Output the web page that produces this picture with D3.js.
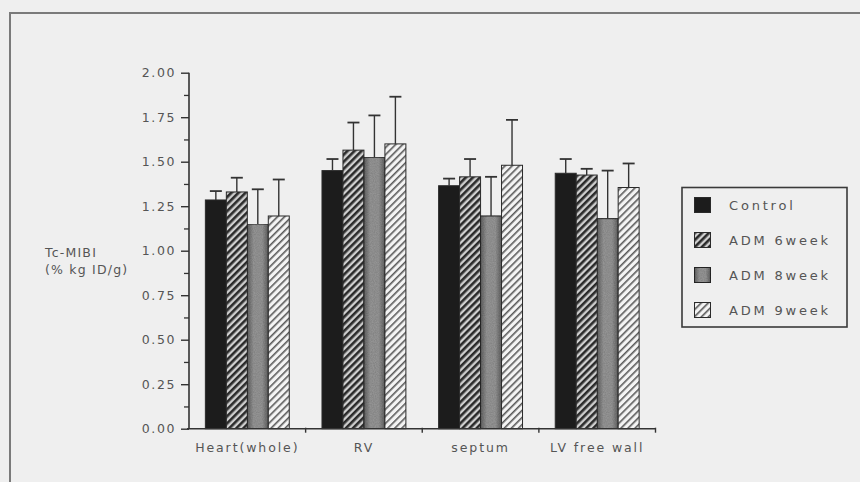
<!DOCTYPE html>
<html>
<head>
<meta charset="utf-8">
<script src="https://cdn.jsdelivr.net/npm/d3@7"></script>
<style>
  html, body { margin: 0; padding: 0; background: #efefef; }
  svg { display: block; }
  text { font-family: "DejaVu Sans", sans-serif; fill: #555; }
</style>
</head>
<body>
<svg id="chart" width="860" height="482"></svg>
<script>
// Tissue regions along the x axis
const categories = ["Heart(whole)", "RV", "septum", "LV free wall"];
// Groups shown in each region
const series = ["Control", "ADM 6week", "ADM 8week", "ADM 9week"];
// Mean Tc-MIBI uptake per group, one array per region
const heartWhole = [1.285, 1.33, 1.15, 1.195];
const rv         = [1.45, 1.565, 1.525, 1.60];
const septum     = [1.365, 1.415, 1.195, 1.48];
const lvFreeWall = [1.435, 1.425, 1.18, 1.355];
// Upper error bar (mean + SD) per group, one array per region
const heartWholeErr = [1.335, 1.41, 1.345, 1.40];
const rvErr         = [1.515, 1.72, 1.76, 1.865];
const septumErr     = [1.405, 1.515, 1.415, 1.735];
const lvFreeWallErr = [1.515, 1.46, 1.45, 1.49];
// Y axis tick labels
const yTicks = [0, 0.25, 0.5, 0.75, 1.0, 1.25, 1.5, 1.75, 2.0];

const means = [heartWhole, rv, septum, lvFreeWall];
const errs = [heartWholeErr, rvErr, septumErr, lvFreeWallErr];

const rows = categories.map((c, i) => ({
  category: c,
  bars: series.map((s, j) => ({ series: s, value: means[i][j], err: errs[i][j] }))
}));

const svg = d3.select("#chart");
const defs = svg.append("defs");

// Dark diagonal hatch
const p6 = defs.append("pattern").attr("id", "hatchDark")
  .attr("patternUnits", "userSpaceOnUse").attr("width", 5).attr("height", 5)
  .attr("patternTransform", "rotate(45)");
p6.append("rect").attr("width", 5).attr("height", 5).attr("fill", "#cfcfcf");
p6.append("rect").attr("width", 2.6).attr("height", 5).attr("fill", "#2a2a2a");

// Light diagonal hatch
const p9 = defs.append("pattern").attr("id", "hatchLight")
  .attr("patternUnits", "userSpaceOnUse").attr("width", 5).attr("height", 5)
  .attr("patternTransform", "rotate(45)");
p9.append("rect").attr("width", 5).attr("height", 5).attr("fill", "#f4f4f4");
p9.append("rect").attr("width", 1.6).attr("height", 5).attr("fill", "#5a5a5a");

// Grainy mid-grey fill, darker at the edges
const g8 = defs.append("linearGradient").attr("id", "shadeMid")
  .attr("x1", "0%").attr("x2", "100%").attr("y1", "0%").attr("y2", "0%");
g8.append("stop").attr("offset", "0%").attr("stop-color", "#646464");
g8.append("stop").attr("offset", "30%").attr("stop-color", "#9a9a9a");
g8.append("stop").attr("offset", "70%").attr("stop-color", "#9a9a9a");
g8.append("stop").attr("offset", "100%").attr("stop-color", "#646464");

const grain = defs.append("filter").attr("id", "grain")
  .attr("x", "0").attr("y", "0").attr("width", "1").attr("height", "1");
grain.append("feTurbulence").attr("type", "fractalNoise")
  .attr("baseFrequency", 0.9).attr("numOctaves", 2).attr("seed", 3).attr("result", "noise");
grain.append("feColorMatrix").attr("in", "noise").attr("type", "matrix")
  .attr("values", "0 0 0 0 0  0 0 0 0 0  0 0 0 0 0  0 0 0 0.35 0").attr("result", "dots");
grain.append("feComposite").attr("in", "dots").attr("in2", "SourceGraphic")
  .attr("operator", "in").attr("result", "dotsIn");
grain.append("feMerge").selectAll("feMergeNode")
  .data(["SourceGraphic", "dotsIn"]).join("feMergeNode").attr("in", d => d);

const fills = {
  "Control": "#1c1c1c",
  "ADM 6week": "url(#hatchDark)",
  "ADM 8week": "url(#shadeMid)",
  "ADM 9week": "url(#hatchLight)"
};

// Page frame
svg.append("path")
  .attr("d", "M10,482 L10,13 L862,13")
  .attr("fill", "none").attr("stroke", "#7a7a7a").attr("stroke-width", 2);

// Scales
const x0 = d3.scaleBand().domain(categories).range([189, 655.5])
  .paddingInner(0).paddingOuter(0);
const x1 = d3.scaleBand().domain(series).range([0, x0.bandwidth()])
  .paddingInner(0).paddingOuter(0.78);
const y = d3.scaleLinear().domain([0, 2]).range([428.7, 72.7]);

// Bars
const groups = svg.append("g").selectAll("g").data(rows).join("g")
  .attr("transform", d => `translate(${x0(d.category)},0)`);

groups.selectAll("rect.bar").data(d => d.bars).join("rect")
  .attr("class", "bar")
  .attr("x", d => x1(d.series))
  .attr("y", d => y(d.value))
  .attr("width", x1.bandwidth())
  .attr("height", d => y(0) - y(d.value))
  .attr("fill", d => fills[d.series])
  .attr("filter", d => d.series === "ADM 8week" ? "url(#grain)" : null)
  .attr("stroke", "#2a2a2a").attr("stroke-width", 1);

// Error bars (upper only)
const capHalf = 6;
const eb = groups.selectAll("g.err").data(d => d.bars).join("g").attr("class", "err");
eb.append("line")
  .attr("x1", d => x1(d.series) + x1.bandwidth() / 2)
  .attr("x2", d => x1(d.series) + x1.bandwidth() / 2)
  .attr("y1", d => y(d.value)).attr("y2", d => y(d.err))
  .attr("stroke", "#333").attr("stroke-width", 1.4);
eb.append("line")
  .attr("x1", d => x1(d.series) + x1.bandwidth() / 2 - capHalf)
  .attr("x2", d => x1(d.series) + x1.bandwidth() / 2 + capHalf)
  .attr("y1", d => y(d.err)).attr("y2", d => y(d.err))
  .attr("stroke", "#333").attr("stroke-width", 1.8);

// Y axis with minor ticks
const minor = yTicks.slice(0, -1).map(v => v + 0.125);
svg.append("g").attr("transform", "translate(189,0)")
  .call(d3.axisLeft(y).tickValues(minor).tickSize(5).tickFormat(""))
  .call(g => g.select(".domain").remove())
  .call(g => g.selectAll("line").attr("stroke", "#333").attr("stroke-width", 1.3));

const yAxis = svg.append("g").attr("transform", "translate(189,0)")
  .call(d3.axisLeft(y).tickValues(yTicks).tickSize(8).tickPadding(5).tickFormat(d3.format(".2f")));
yAxis.select(".domain").attr("stroke", "#333").attr("stroke-width", 1.6)
  .attr("d", `M0,${y(2)}V${y(0)}`);
yAxis.selectAll(".tick line").attr("stroke", "#333").attr("stroke-width", 1.4).attr("x2", -8);
yAxis.selectAll(".tick text")
  .attr("font-size", 12.5).attr("letter-spacing", "1.6px")
  .style("font-family", "'DejaVu Sans', sans-serif").attr("fill", "#666");

// X axis
const xAxis = svg.append("g").attr("transform", `translate(0,${y(0)})`)
  .call(d3.axisBottom(x0).tickSize(0).tickPadding(14));
xAxis.select(".domain").attr("stroke", "#333").attr("stroke-width", 1.6)
  .attr("d", `M187,0H656`);
xAxis.selectAll(".tick text")
  .attr("font-size", 12.5).attr("letter-spacing", "1.9px")
  .style("font-family", "'DejaVu Sans', sans-serif").attr("fill", "#5a5a5a");
// Group boundary ticks
const bounds = categories.slice(1).map(c => x0(c)).concat([x0.range()[1]]);
xAxis.selectAll("line.bound").data(bounds).join("line").attr("class", "bound")
  .attr("x1", d => d).attr("x2", d => d).attr("y1", -1).attr("y2", 4)
  .attr("stroke", "#333").attr("stroke-width", 1.4);

// Y axis title
const yTitle = svg.append("text").attr("x", 45).attr("y", 257)
  .attr("font-size", 12.5).attr("letter-spacing", "1.2px").attr("fill", "#5a5a5a");
yTitle.append("tspan").attr("x", 45).text("Tc-MIBI");
yTitle.append("tspan").attr("x", 45).attr("dy", 17).text("(% kg ID/g)");

// Legend
const legend = svg.append("g");
legend.append("rect").attr("x", 682).attr("y", 187.5).attr("width", 165).attr("height", 139.5)
  .attr("fill", "none").attr("stroke", "#3a3a3a").attr("stroke-width", 1.6);
const legendY = d3.scalePoint().domain(series).range([205, 310]);
const li = legend.selectAll("g.item").data(series).join("g").attr("class", "item")
  .attr("transform", d => `translate(0,${legendY(d)})`);
li.append("rect").attr("x", 694.5).attr("y", -7.5).attr("width", 16).attr("height", 15)
  .attr("fill", d => fills[d])
  .attr("filter", d => d === "ADM 8week" ? "url(#grain)" : null)
  .attr("stroke", "#2a2a2a").attr("stroke-width", 1);
li.append("text").attr("x", 729).attr("dy", "0.36em")
  .attr("font-size", 13).attr("letter-spacing", "2.8px").attr("fill", "#5a5a5a")
  .text(d => d.replace(" ", "\u00a0"));
</script>
</body>
</html>
